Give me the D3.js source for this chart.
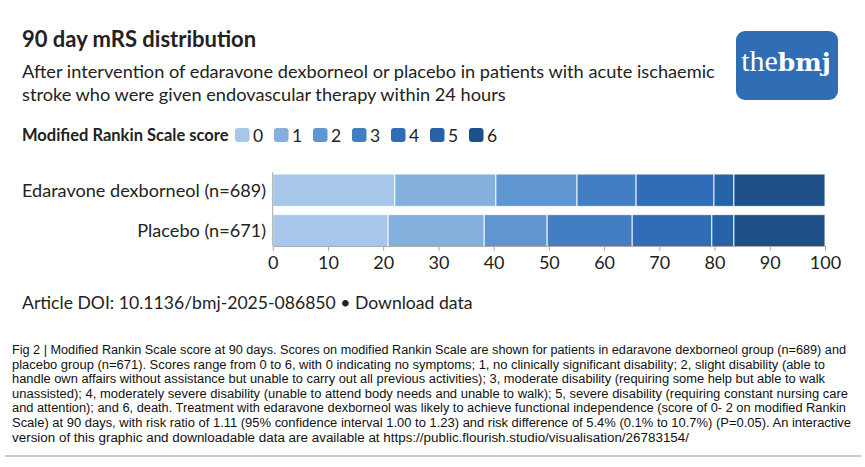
<!DOCTYPE html>
<html><head><meta charset="utf-8">
<script src="https://cdn.jsdelivr.net/npm/d3@7"></script>
<style>body{margin:0;background:#fff}</style>
</head><body>
<svg id="c" width="865" height="467"></svg>
<script>
const groups = ["Edaravone dexborneol (n=689)", "Placebo (n=671)"];
const scores = ["0","1","2","3","4","5","6"];
const edaravone = [22.1, 18.3, 14.7, 10.7, 14.1, 3.6, 16.5];
const placebo = [20.9, 17.4, 11.4, 15.4, 14.4, 4.0, 16.5];
const colors = ["#a6c7ea","#85afdd","#5f96d1","#437ec2","#2f6db8","#2562a8","#1f4f88"];
const ticks = [0,10,20,30,40,50,60,70,80,90,100];
const caption = [
"Fig 2 | Modified Rankin Scale score at 90 days. Scores on modified Rankin Scale are shown for patients in edaravone dexborneol group (n=689) and",
"placebo group (n=671). Scores range from 0 to 6, with 0 indicating no symptoms; 1, no clinically significant disability; 2, slight disability (able to",
"handle own affairs without assistance but unable to carry out all previous activities); 3, moderate disability (requiring some help but able to walk",
"unassisted); 4, moderately severe disability (unable to attend body needs and unable to walk); 5, severe disability (requiring constant nursing care",
"and attention); and 6, death. Treatment with edaravone dexborneol was likely to achieve functional independence (score of 0- 2 on modified Rankin",
"Scale) at 90 days, with risk ratio of 1.11 (95% confidence interval 1.00 to 1.23) and risk difference of 5.4% (0.1% to 10.7%) (P=0.05). An interactive",
"version of this graphic and downloadable data are available at https://public.flourish.studio/visualisation/26783154/"
];
const captionWidths = [834, 813, 813, 836, 834, 839, 677];

const svg = d3.select("#c");
const F = "Lato, 'Open Sans', sans-serif";
const txt = "#222";

svg.append("text").attr("x",22).attr("y",47).attr("font-family",F).attr("font-weight","bold")
  .attr("font-size",22).attr("fill",txt).text("90 day mRS distribution");
svg.append("text").attr("x",22).attr("y",78).attr("font-family",F).attr("font-size",18.2).attr("fill",txt)
  .text("After intervention of edaravone dexborneol or placebo in patients with acute ischaemic");
svg.append("text").attr("x",22).attr("y",101).attr("font-family",F).attr("font-size",18.2).attr("fill",txt)
  .text("stroke who were given endovascular therapy within 24 hours");

// logo
const logo = svg.append("g");
logo.append("rect").attr("x",736).attr("y",31).attr("width",102).attr("height",69).attr("rx",9).attr("fill","#2f6db5");
const lt = logo.append("text").attr("x",786).attr("y",71).attr("text-anchor","middle")
  .attr("font-family","'DejaVu Serif','Liberation Serif',serif").attr("fill","#fff").attr("font-size",25);
lt.append("tspan").attr("font-weight","normal").attr("font-family","'Liberation Serif',serif").attr("font-size",30).text("the");
lt.append("tspan").attr("font-weight","bold").text("bmj");

// legend
svg.append("text").attr("x",22).attr("y",141).attr("font-family",F).attr("font-weight","bold")
  .attr("font-size",16.5).attr("fill",txt).text("Modified Rankin Scale score");
const lg = svg.append("g").selectAll("g").data(scores).join("g")
  .attr("transform",(d,i)=>`translate(${235+i*39},128)`);
lg.append("rect").attr("width",14.5).attr("height",14).attr("rx",3).attr("fill",(d,i)=>colors[i]);
lg.append("text").attr("x",18).attr("y",13.5).attr("font-family",F).attr("font-size",17.5).attr("fill",txt).text(d=>d);

// chart
const x = d3.scaleLinear().domain([0,100]).range([272.7,825]);
const y = d3.scaleBand().domain(groups).range([172,249]).paddingInner(0.2).paddingOuter(0.05);
const data = [edaravone, placebo];
const rows = svg.append("g").selectAll("g").data(groups).join("g");
rows.each(function(g,gi){
  const vals = data[gi];
  const cum = d3.cumsum(vals);
  d3.select(this).selectAll("rect").data(vals).join("rect")
    .attr("x",(d,i)=>x(cum[i]-d))
    .attr("width",(d,i)=>x(cum[i])-x(cum[i]-d))
    .attr("y",y(g)).attr("height",y.bandwidth())
    .attr("fill",(d,i)=>colors[i])
    .attr("stroke","rgba(255,255,255,0.75)").attr("stroke-width",1.2);
});
const gy = svg.append("g").attr("transform","translate(266,0)");
groups.forEach(g=>{
  gy.append("text").attr("x",0).attr("y",y(g)+y.bandwidth()/2).attr("dy","0.35em")
    .attr("text-anchor","end").attr("font-family",F).attr("font-size",18.1).attr("fill",txt).text(g);
});
const ax = svg.append("g").attr("transform","translate(0,246)")
  .call(d3.axisBottom(x).tickValues(ticks).tickSize(5).tickPadding(5).tickSizeOuter(0));
ax.select(".domain").attr("stroke","#aaa");
ax.selectAll(".tick line").attr("stroke","#aaa");
ax.selectAll(".tick text").attr("font-family",F).attr("font-size",18).attr("fill",txt);
svg.append("line").attr("x1",x(0)).attr("x2",x(0)).attr("y1",172).attr("y2",246).attr("stroke","#aaa");

svg.append("text").attr("x",22).attr("y",309).attr("font-family",F).attr("font-size",17.6).attr("fill",txt)
  .text("Article DOI: 10.1136/bmj-2025-086850 \u2022 Download data");

const cap = svg.append("g");
caption.forEach((l,i)=>{
  cap.append("text").attr("x",12).attr("y",354+i*14.6)
    .attr("font-family","'Liberation Sans','DejaVu Sans',sans-serif")
    .attr("font-size",12.5).attr("fill","#111")
    .attr("textLength",captionWidths[i]).attr("lengthAdjust","spacingAndGlyphs").text(l);
});
svg.append("line").attr("x1",5).attr("x2",861).attr("y1",456).attr("y2",456).attr("stroke","#bbb").attr("stroke-width",1.5);
</script>
</body></html>
